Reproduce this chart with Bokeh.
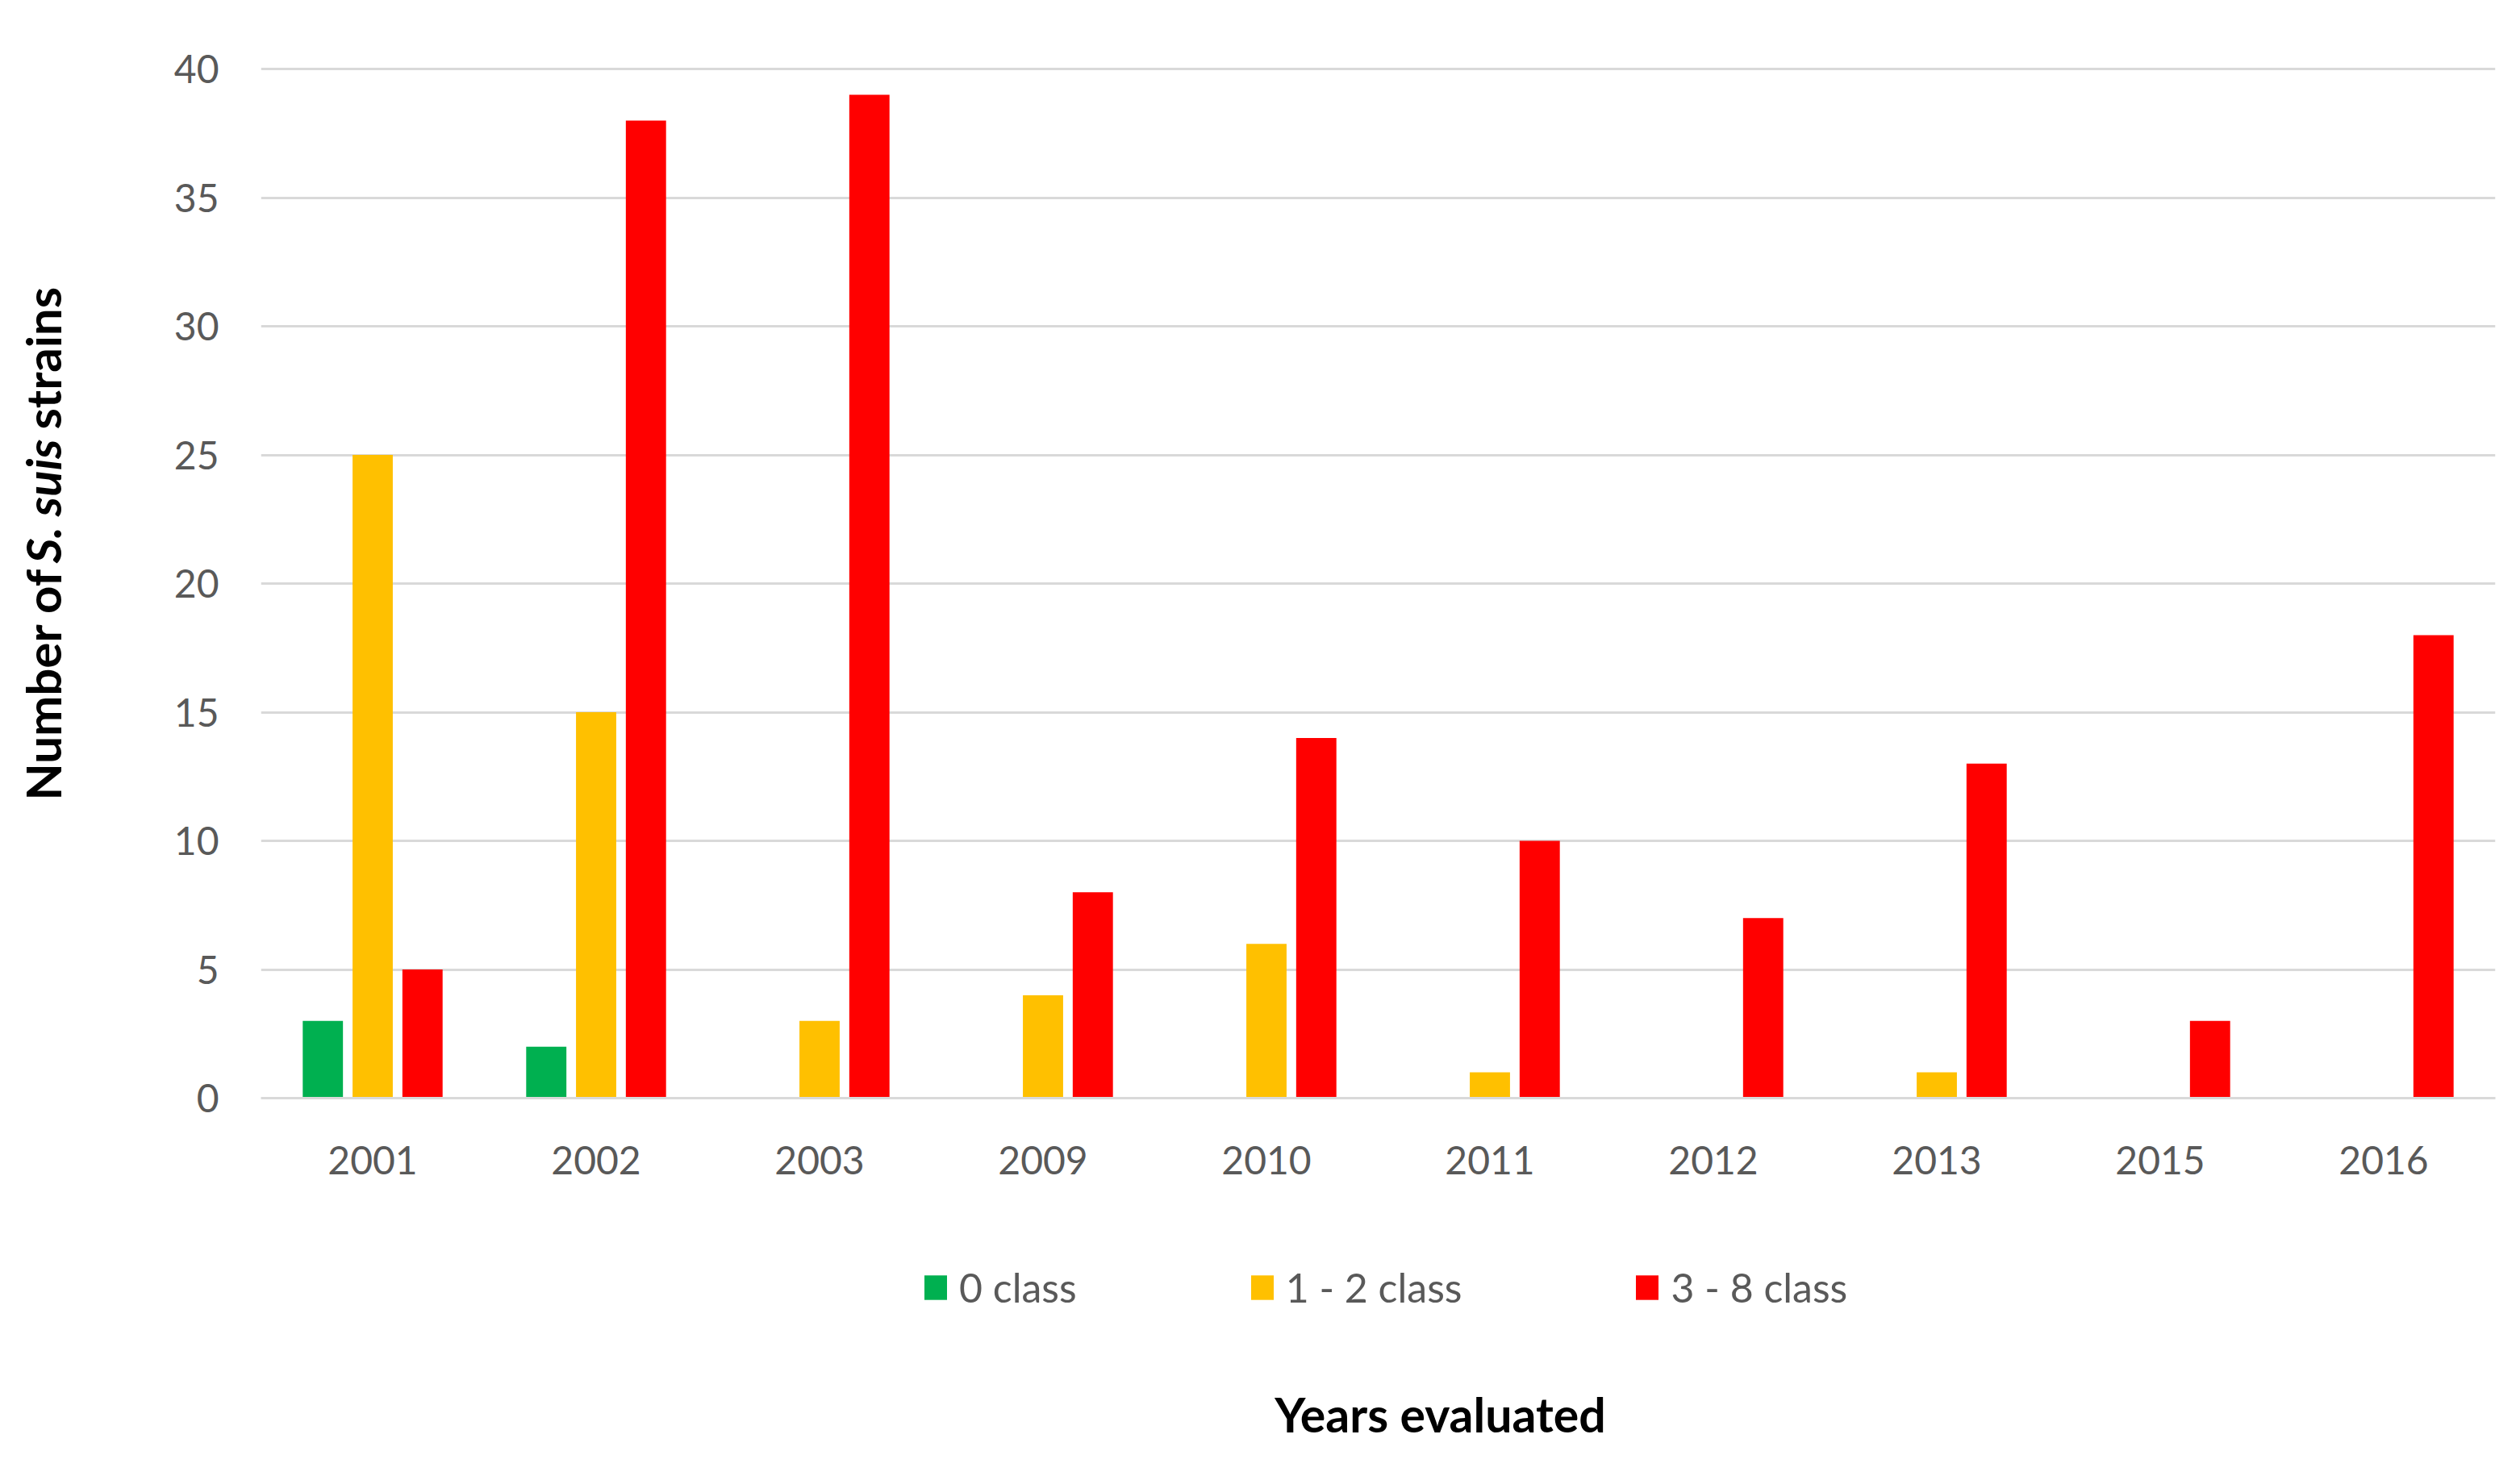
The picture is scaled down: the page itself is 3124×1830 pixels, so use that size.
from bokeh.plotting import figure
from bokeh.models import ColumnDataSource, Legend, LegendItem, Label, FactorRange, Range1d, FixedTicker
from bokeh.layouts import row, column
from bokeh.transform import dodge
from bokeh.embed import file_html
from bokeh.resources import INLINE
import math

years = ["2001", "2002", "2003", "2009", "2010", "2011", "2012", "2013", "2015", "2016"]
class_0 = [3, 2, 0, 0, 0, 0, 0, 0, 0, 0]
class_1_2 = [25, 15, 3, 4, 6, 1, 0, 1, 0, 0]
class_3_8 = [5, 38, 39, 8, 14, 10, 7, 13, 3, 18]
series_names = ["0 class", "1 - 2 class", "3 - 8 class"]
y_ticks = [0, 5, 10, 15, 20, 25, 30, 35, 40]

colors = ["#00B050", "#FFC000", "#FF0000"]
FONT = "Lato"
TICK_COLOR = "#595959"

TOTAL_W, TOTAL_H = 3108, 1814
LEFT_W = 150
MAIN_H = 1501

src = ColumnDataSource(dict(years=years, c0=class_0, c12=class_1_2, c38=class_3_8))

# ---------------- main chart ----------------
p = figure(x_range=FactorRange(*years, range_padding=0), y_range=Range1d(0, 40.1),
           width=TOTAL_W - LEFT_W, height=MAIN_H, output_backend="svg", toolbar_location=None,
           min_border_left=173, min_border_right=15, min_border_top=82, min_border_bottom=140)

off = 0.223
bw = 0.18
for col, dx, c in zip(["c0", "c12", "c38"], [-off, 0, off], colors):
    p.vbar(x=dodge("years", dx, range=p.x_range), top=col, width=bw, source=src,
           fill_color=c, line_color=None)

p.outline_line_color = None
p.xgrid.visible = False
p.ygrid.grid_line_color = "#D9D9D9"
p.ygrid.grid_line_width = 3
p.yaxis.ticker = FixedTicker(ticks=y_ticks)

for ax in (p.xaxis[0], p.yaxis[0]):
    ax.major_tick_line_color = None
    ax.minor_tick_line_color = None
    ax.major_tick_out = 0
    ax.major_tick_in = 0
    ax.major_label_text_font = FONT
    ax.major_label_text_font_size = "48px"
    ax.major_label_text_color = TICK_COLOR

p.yaxis.axis_line_color = None
p.yaxis.major_label_standoff = 52
p.xaxis.axis_line_color = "#D9D9D9"
p.xaxis.axis_line_width = 3
p.xaxis.major_label_standoff = 59


def blank(w, h):
    f = figure(width=w, height=h, output_backend="svg", toolbar_location=None,
               x_range=Range1d(0, 1), y_range=Range1d(0, 1),
               x_axis_location=None, y_axis_location=None,
               min_border=0, outline_line_color=None)
    f.xgrid.visible = False
    f.ygrid.visible = False
    return f


# ---------------- y-axis title (left panel) ----------------
left = blank(LEFT_W, MAIN_H)
ypos = 369
fs = 60
parts = [("Number of", "bold", 282), ("S. suis", "bold italic", 154), ("strains", "bold", 174)]
space = 12
for txt, style, w in parts:
    left.add_layout(Label(x=52, y=ypos, x_units="screen", y_units="screen", text=txt, angle=math.pi / 2,
                          text_font=FONT, text_font_size=f"{fs}px", text_font_style=style,
                          text_align="left", text_baseline="middle", text_color="black"))
    ypos += w + space

# ---------------- legend + x-axis title (bottom panel) ----------------
BOT_H = TOTAL_H - MAIN_H
bottom = blank(TOTAL_W, BOT_H)
# legend-only renderers: a single zero bar placed outside the visible range
dummy = [bottom.vbar(x=[-5], top=[0], width=0.1, fill_color=c, line_color=None) for c in colors]
legend = Legend(items=[LegendItem(label=n, renderers=[r]) for n, r in zip(series_names, dummy)],
                orientation="horizontal", location=(1142, 188),
                glyph_width=35, glyph_height=38, label_standoff=12, spacing=212,
                padding=0, margin=0, border_line_color=None, background_fill_alpha=0,
                label_text_font=FONT, label_text_font_size="50px", label_text_color=TICK_COLOR)
bottom.add_layout(legend)
bottom.add_layout(Label(x=1785, y=61, x_units="screen", y_units="screen", text="Years evaluated",
                        text_font=FONT, text_font_size="59px", text_font_style="bold",
                        text_align="center", text_baseline="middle", text_color="black"))

layout = column(row(left, p), bottom)
open("out.html", "w").write(file_html(layout, INLINE))
